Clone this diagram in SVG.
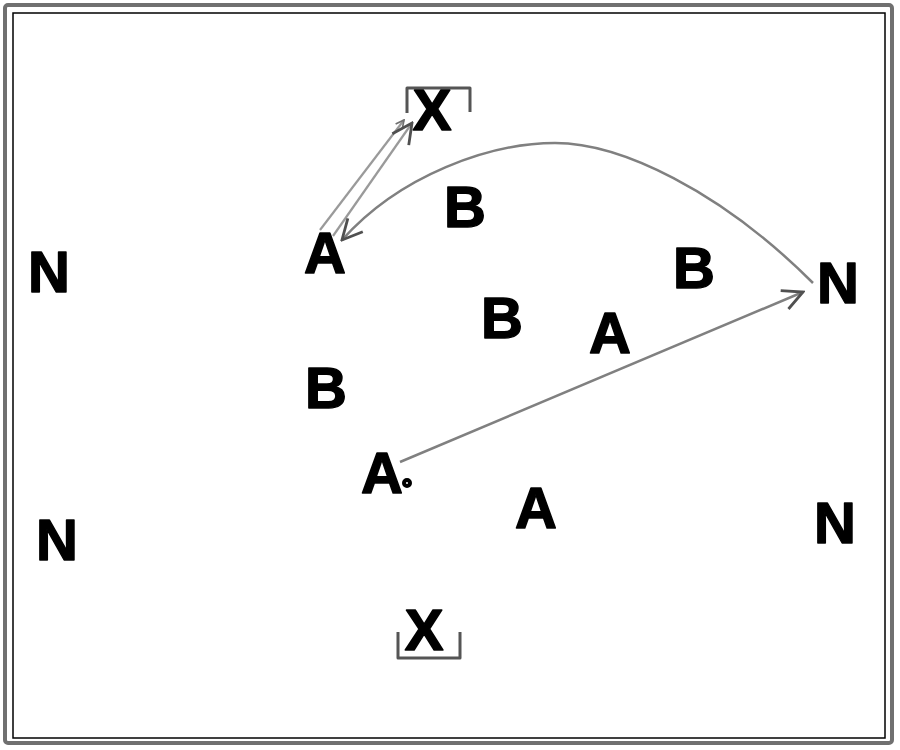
<svg xmlns="http://www.w3.org/2000/svg" width="900" height="750" viewBox="0 0 900 750">
  <defs>
    <style>
      .lbl { font-family: "Liberation Sans", Arial, sans-serif; font-weight: bold; font-size: 58px; fill: #000; stroke: #000; stroke-width: 1.5; stroke-linejoin: round; text-anchor: middle; }
      .conn { fill: none; stroke: #808080; stroke-width: 2.5; }
      .pass { fill: none; stroke: #9a9a9a; stroke-width: 2.2; }
      .bracket { fill: none; stroke: #555; stroke-width: 3; stroke-linejoin: round; }
    </style>
    <marker id="arrow" viewBox="0 0 12 12" refX="11" refY="6" markerWidth="10" markerHeight="10" markerUnits="userSpaceOnUse" orient="auto">
      <path d="M1,1 L11,6 L1,11" fill="none" stroke="#707070" stroke-width="2"/>
    </marker>
    <marker id="arrowBig" viewBox="0 0 24 24" refX="22" refY="12" markerWidth="24" markerHeight="24" markerUnits="userSpaceOnUse" orient="auto">
      <path d="M2,2 L22,12 L2,22" fill="none" stroke="#505050" stroke-width="2.8"/>
    </marker>
  </defs>
  <rect width="900" height="750" fill="#fff"/>
  <rect x="5" y="5" width="887" height="738" rx="3" fill="none" stroke="#707070" stroke-width="4"/>
  <rect x="13" y="13" width="872" height="725" fill="none" stroke="#000" stroke-width="1.5"/>

  <g id="connectors">
    <path class="pass" d="M320,230 L404,120" marker-end="url(#arrow)"/>
    <path class="pass" d="M333,236 L412,123" marker-end="url(#arrowBig)"/>
    <path class="conn" d="M813,283 C720,190 620,143 555,143 C490,143 400,175 342,240" marker-end="url(#arrowBig)"/>
    <path class="conn" d="M400,462 L803,292" marker-end="url(#arrowBig)"/>
  </g>

  <g id="x-top"><path class="bracket" d="M407,113 L407,88 L470,88 L470,112"/><text class="lbl" x="432" y="130">X</text></g>
  <g id="x-bottom"><path class="bracket" d="M398,632 L398,658 L460,658 L460,632"/><text class="lbl" x="424" y="650">X</text></g>

  <g id="n-left-top"><text class="lbl" x="49" y="292">N</text></g>
  <g id="n-left-bottom"><text class="lbl" x="57" y="560">N</text></g>
  <g id="n-right-top"><text class="lbl" x="838" y="303">N</text></g>
  <g id="n-right-bottom"><text class="lbl" x="835" y="543">N</text></g>

  <g id="a-upper-left"><text class="lbl" x="325" y="273">A</text></g>
  <g id="a-ball"><text class="lbl" x="382" y="493">A</text><circle cx="407" cy="483" r="4" fill="#000" stroke="#000" stroke-width="2"/><circle cx="407" cy="483" r="1" fill="#fff"/></g>
  <g id="a-right"><text class="lbl" x="610" y="353">A</text></g>
  <g id="a-lower"><text class="lbl" x="536" y="528">A</text></g>

  <g id="b-top"><text class="lbl" x="465" y="227">B</text></g>
  <g id="b-right"><text class="lbl" x="694" y="288">B</text></g>
  <g id="b-middle"><text class="lbl" x="502" y="338">B</text></g>
  <g id="b-left"><text class="lbl" x="326" y="408">B</text></g>
</svg>
